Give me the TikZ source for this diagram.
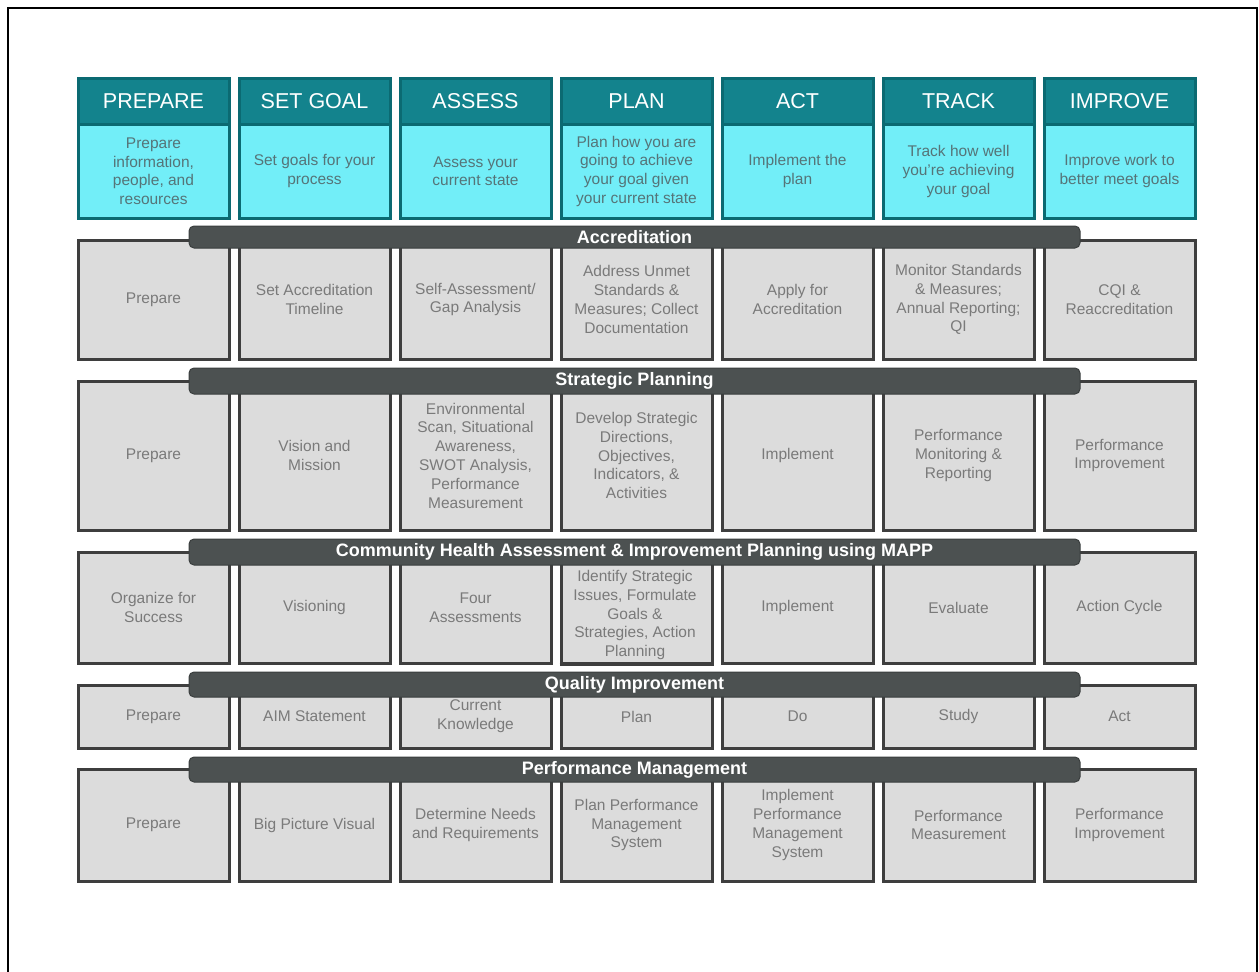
\documentclass[tikz,border=0pt]{standalone}
\usepackage{fontspec}
\setmainfont{Liberation Sans}
\definecolor{tealhead}{HTML}{13838D}
\definecolor{tealline}{HTML}{0B6A72}
\definecolor{cyanbody}{HTML}{72EEF8}
\definecolor{cyantext}{HTML}{557478}
\definecolor{greyfill}{HTML}{DCDCDC}
\definecolor{greyline}{HTML}{3E3E3E}
\definecolor{greytext}{HTML}{7A7A7A}
\definecolor{barfill}{HTML}{4C5151}
\definecolor{barline}{HTML}{3A3E3E}
\tikzset{
 headbox/.style={draw=tealline, line width=3pt, fill=tealhead, text=white, anchor=north west,
   minimum width=151pt, minimum height=46.5pt, inner sep=0pt, font=\fontsize{21.5}{24}\selectfont},
 bodybox/.style={draw=tealline, line width=3pt, fill=cyanbody, text=cyantext, anchor=north west,
   minimum width=151pt, minimum height=93.5pt, inner sep=0pt, align=center, font=\fontsize{15.5}{18.8}\selectfont},
 cellbox/.style={draw=greyline, line width=3pt, fill=greyfill, anchor=north west, minimum width=151pt,
   inner sep=0pt, text=greytext, align=center, font=\fontsize{15.5}{18.8}\selectfont},
 celltext/.style={text=greytext, align=center, font=\fontsize{15.5}{18.8}\selectfont, inner sep=0pt},
 barbox/.style={draw=barline, line width=1pt, fill=barfill, rounded corners=5pt, text=white,
   font=\bfseries\fontsize{18}{20}\selectfont, minimum width=891pt, inner sep=0pt, anchor=north west},
}
\begin{document}
\begin{tikzpicture}[x=1pt,y=-1pt]
\useasboundingbox (0,0) rectangle (1259,972);
\draw[line width=2pt] (8,972) -- (8,8) -- (1257,8) -- (1257,972);

% header columns
\foreach \h/\b [count=\i from 0] in {
  PREPARE/{Prepare\\information,\\people, and\\resources},
  SET GOAL/{Set goals for your\\process},
  ASSESS/{Assess your\\current state},
  PLAN/{Plan how you are\\going to achieve\\your goal given\\your current state},
  ACT/{Implement the\\plan},
  TRACK/{Track how well\\you're achieving\\your goal},
  IMPROVE/{Improve work to\\better meet goals}} {
  \node[bodybox] (body\i) at ({76.5+161*\i},123) {\b};
  \node[headbox] (head\i) at ({76.5+161*\i},76.5) {\h};
}

% Accreditation
\foreach \t [count=\i from 0] in {
  {Prepare},
  {Set Accreditation\\Timeline},
  {Self-Assessment/\\Gap Analysis},
  {Address Unmet\\Standards \&\\Measures; Collect\\Documentation},
  {Apply for\\Accreditation},
  {Monitor Standards\\\& Measures;\\Annual Reporting;\\QI},
  {CQI \&\\Reaccreditation}} {
  \node[cellbox, minimum height=119pt] (acc\i) at ({76.5+161*\i},238.5) {\t};
}
\node[barbox, minimum height=22pt] (accbar) at (188.5,225.5) {Accreditation};

% Strategic Planning
\foreach \t [count=\i from 0] in {
  {Prepare},
  {Vision and\\Mission},
  {Environmental\\Scan, Situational\\Awareness,\\SWOT Analysis,\\Performance\\Measurement},
  {Develop Strategic\\Directions,\\Objectives,\\Indicators, \&\\Activities},
  {Implement},
  {Performance\\Monitoring \&\\Reporting},
  {Performance\\Improvement}} {
  \node[cellbox, minimum height=149pt] (sp\i) at ({76.5+161*\i},379.5) {\t};
}
\node[barbox, minimum height=26pt] (spbar) at (188.5,367.5) {Strategic Planning};

% Community Health
\foreach \t [count=\i from 0] in {
  {Organize for\\Success},
  {Visioning},
  {Four\\Assessments},
  {},
  {Implement},
  {Evaluate},
  {Action Cycle}} {
  \node[cellbox, minimum height=111pt] (ch\i) at ({76.5+161*\i},550.5) {\t};
}
\node[celltext] (ch3t) at (635,615) {Identify Strategic\\Issues, Formulate\\Goals \&\\Strategies, Action\\Planning};
\draw[greyline, line width=3pt] (ch3.south west) -- (ch3.south east);
\node[barbox, minimum height=26pt] (chbar) at (188.5,538.5) {Community Health Assessment \& Improvement Planning using MAPP};

% Quality Improvement
\foreach \t [count=\i from 0] in {
  {Prepare},
  {AIM Statement},
  {Current\\Knowledge},
  {Plan},
  {Do},
  {Study},
  {Act}} {
  \node[cellbox, minimum height=63pt] (qi\i) at ({76.5+161*\i},683.5) {\t};
}
\node[barbox, minimum height=25pt] (qibar) at (188.5,671.5) {Quality Improvement};

% Performance Management
\foreach \t [count=\i from 0] in {
  {Prepare},
  {Big Picture Visual},
  {Determine Needs\\and Requirements},
  {Plan Performance\\Management\\System},
  {Implement\\Performance\\Management\\System},
  {Performance\\Measurement},
  {Performance\\Improvement}} {
  \node[cellbox, minimum height=112pt] (pm\i) at ({76.5+161*\i},767.5) {\t};
}
\node[barbox, minimum height=25pt] (pmbar) at (188.5,756.5) {Performance Management};
\end{tikzpicture}
\end{document}
